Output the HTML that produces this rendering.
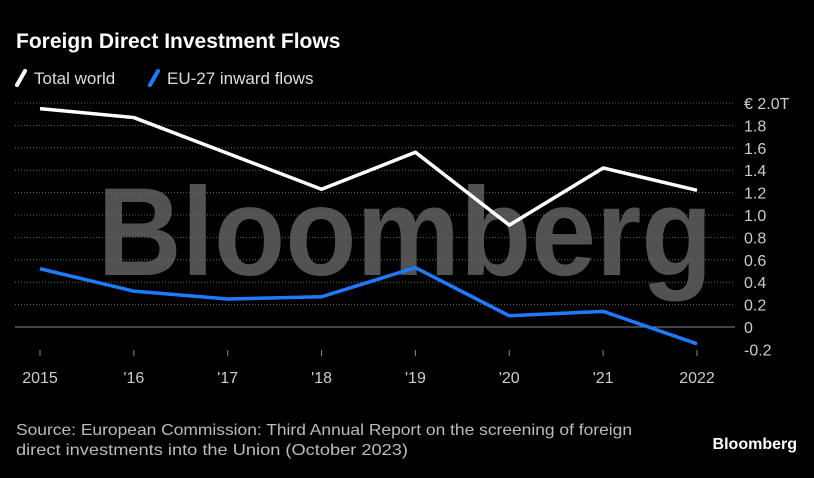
<!DOCTYPE html>
<html><head><meta charset="utf-8"><style>
body{margin:0;background:#000;width:814px;height:473px;overflow:hidden;font-family:"Liberation Sans",sans-serif;color:#fff}
</style></head><body>
<svg width="814" height="473" xmlns="http://www.w3.org/2000/svg">
<text x="16" y="48" font-size="21" font-weight="bold" fill="#fff">Foreign Direct Investment Flows</text>
<g>
<line x1="17" y1="85" x2="25" y2="71" stroke="#fff" stroke-width="4" stroke-linecap="round"/>
<text x="34" y="84" font-size="17" fill="#ddd">Total world</text>
<line x1="150" y1="85" x2="158" y2="71" stroke="#1e7bff" stroke-width="4" stroke-linecap="round"/>
<text x="167" y="84" font-size="17" fill="#ddd">EU-27 inward flows</text>
</g>
<text x="405" y="275" font-size="125" font-weight="bold" fill="#666" fill-opacity="0.8" text-anchor="middle" textLength="615" lengthAdjust="spacingAndGlyphs">Bloomberg</text>
<g id="grid"></g><g id="xt"></g><g id="series"></g>
<text x="16" y="435" font-size="16" fill="#bbb" textLength="616" lengthAdjust="spacingAndGlyphs">Source: European Commission: Third Annual Report on the screening of foreign</text>
<text x="16" y="455" font-size="16" fill="#bbb" textLength="392" lengthAdjust="spacingAndGlyphs">direct investments into the Union (October 2023)</text>
<text x="797" y="449" font-size="16" font-weight="bold" fill="#fff" text-anchor="end">Bloomberg</text>
</svg>
<script>
const years=['2015',"'16","'17","'18","'19","'20","'21",'2022'];
const world=[1.95,1.87,1.55,1.23,1.56,0.91,1.42,1.22];
const eu=[0.52,0.32,0.25,0.27,0.53,0.10,0.14,-0.15];
const yTicks=[2.0,1.8,1.6,1.4,1.2,1.0,0.8,0.6,0.4,0.2,0,-0.2];
const yLabels=['€ 2.0T','1.8','1.6','1.4','1.2','1.0','0.8','0.6','0.4','0.2','0','-0.2'];
const NS='http://www.w3.org/2000/svg';
const x=i=>40+i*(697-40)/(years.length-1);
const y=v=>327-v*112;
function mk(t,a,p){const e=document.createElementNS(NS,t);for(const k in a)e.setAttribute(k,a[k]);p.appendChild(e);return e;}
const g=document.getElementById('grid');
yTicks.forEach((v,i)=>{
 if(v!==-0.2){const l=mk('line',{x1:15,x2:735,y1:y(v),y2:y(v),stroke:v===0?'#888':'#666','stroke-width':1,'stroke-dasharray':v===0?'none':'1 2'},g);
 
 }
 const t=mk('text',{x:744,y:y(v)+6,'font-size':16,fill:'#ccc'},g);t.textContent=yLabels[i];
 
 
});
const xt=document.getElementById('xt');
years.forEach((s,i)=>{
 const l=mk('line',{x1:x(i),x2:x(i),y1:350,y2:356,stroke:'#888'},xt);
 
 
 const t=mk('text',{x:x(i),y:383,'font-size':16,fill:'#ccc','text-anchor':'middle'},xt);t.textContent=s;
 
 
});
const sg=document.getElementById('series');
[[world,'#fff','line-total-world'],[eu,'#1e7bff','line-eu-27']].forEach(([d,c,n])=>{
 const p=mk('polyline',{points:d.map((v,i)=>x(i)+','+y(v)).join(' '),fill:'none',stroke:c,'stroke-width':3.5,'stroke-linejoin':'round'},sg);
 
 
});
</script>
</body></html>
